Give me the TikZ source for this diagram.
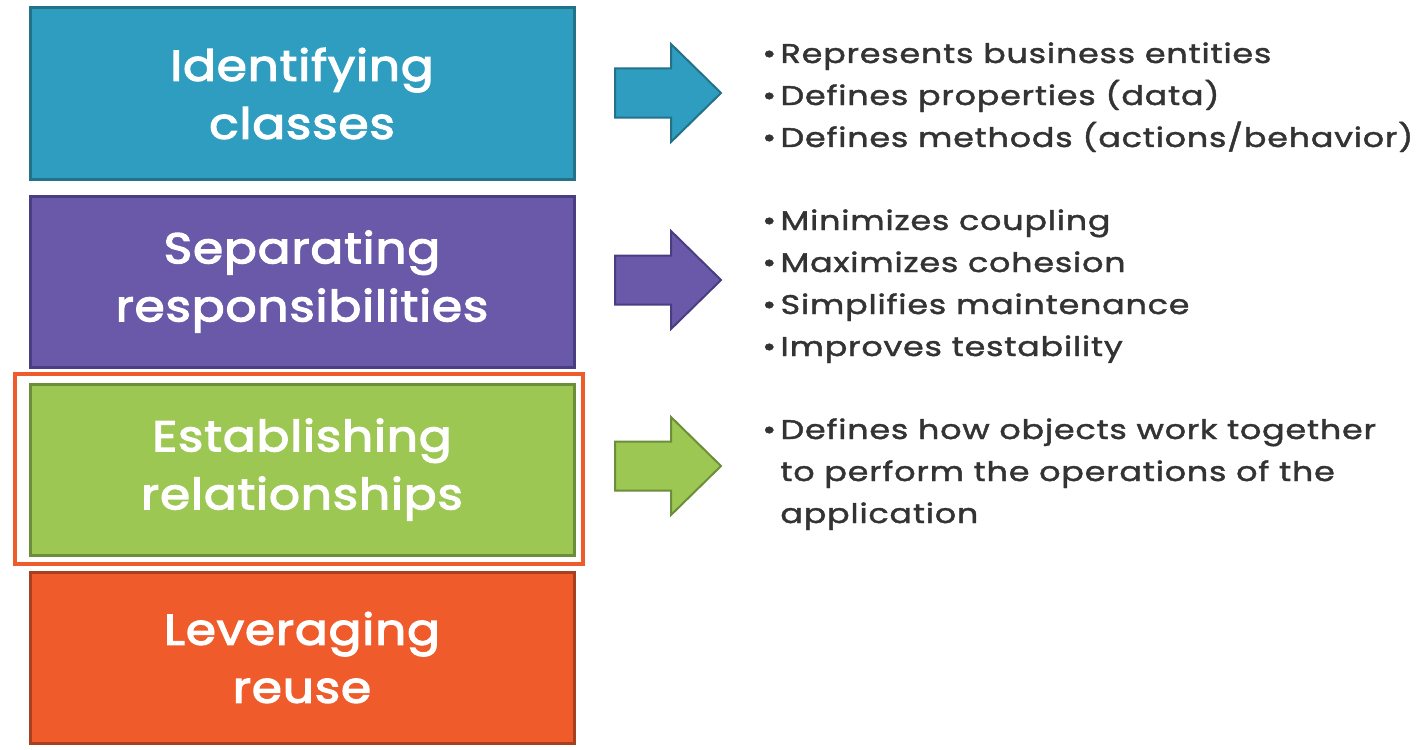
\documentclass[tikz,border=0pt]{standalone}
\usepackage{fontspec}
\setmainfont{Poppins}
\newfontfamily\boxfont{Poppins}[FakeBold=3, FakeStretch=1.13, LetterSpace=2]
\newfontfamily\listfont{Poppins}[FakeBold=1.6, FakeStretch=1.235, LetterSpace=3]
\definecolor{tealF}{HTML}{2E9DBF}
\definecolor{tealD}{HTML}{24718A}
\definecolor{purpF}{HTML}{6A59A8}
\definecolor{purpD}{HTML}{4A3E82}
\definecolor{grnF}{HTML}{9DC753}
\definecolor{grnD}{HTML}{6C8E3A}
\definecolor{orgF}{HTML}{EF5B2A}
\definecolor{orgD}{HTML}{A8401F}
\definecolor{txt}{HTML}{333333}
\tikzset{
  box/.style={draw, line width=1.5pt, rectangle, minimum width=272pt, minimum height=85.5pt, inner sep=0pt, align=center, text=white, font=\boxfont\fontsize{21.5}{29}\selectfont},
  bigarrow/.style={line width=1pt},
  bl/.style={anchor=base west, inner sep=0pt, text=txt, font=\listfont\fontsize{13.5}{16}\selectfont},
}
\begin{document}
\begin{tikzpicture}[x=0.5pt,y=-0.5pt]
\useasboundingbox (0,0) rectangle (1417,749);
% highlight frame
\draw[orgF, line width=2pt] (15,374) rectangle (583,564);
% boxes
\node[box, fill=tealF, draw=tealD] (b1) at (302,93.5) {Identifying\\classes};
\node[box, fill=purpF, draw=purpD] (b2) at (302,281.5) {Separating\\responsibilities};
\node[box, fill=grnF, draw=grnD] (b3) at (302,469.5) {Establishing\\relationships};
\node[box, fill=orgF, draw=orgD] (b4) at (302,657.5) {Leveraging\\reuse};
% arrows
\foreach \c/\f/\d in {93/tealF/tealD, 280/purpF/purpD, 466/grnF/grnD}{
  \draw[bigarrow, fill=\f, draw=\d] (615,\c-24.5) -- (671,\c-24.5) -- (671,\c-49) -- (721,\c) -- (671,\c+49) -- (671,\c+24.5) -- (615,\c+24.5) -- cycle;
}
% bullet lists
\node[bl] (t11) at (762,63) {\textbullet\,Represents business entities};
\node[bl] (t12) at (762,105) {\textbullet\,Defines properties (data)};
\node[bl] (t13) at (762,147) {\textbullet\,Defines methods (actions/behavior)};
\node[bl] (t21) at (762,230) {\textbullet\,Minimizes coupling};
\node[bl] (t22) at (762,272) {\textbullet\,Maximizes cohesion};
\node[bl] (t23) at (762,314) {\textbullet\,Simplifies maintenance};
\node[bl] (t24) at (762,356) {\textbullet\,Improves testability};
\node[bl] (t31) at (762,439) {\textbullet\,Defines how objects work together};
\node[bl] (t32) at (780,481) {to perform the operations of the};
\node[bl] (t33) at (780,523) {application};
\end{tikzpicture}
\end{document}
